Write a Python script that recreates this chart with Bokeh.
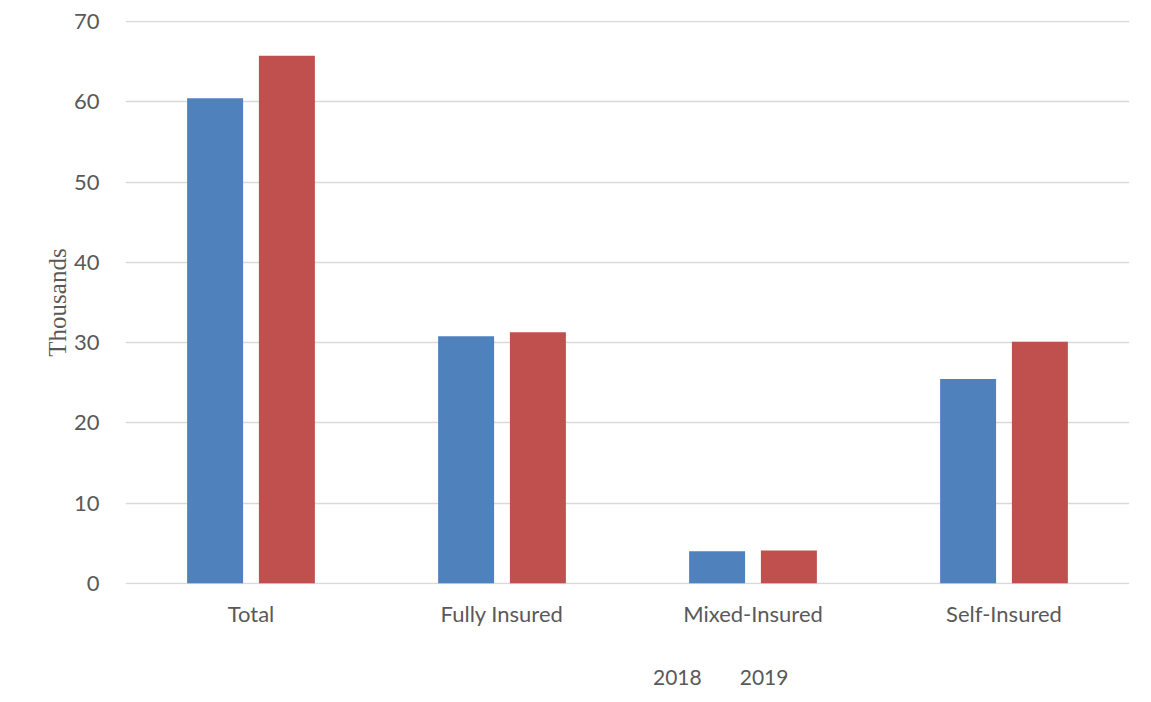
from bokeh.plotting import figure
from bokeh.layouts import column
from bokeh.models import ColumnDataSource, FactorRange, Range1d, Legend, LegendItem, SingleIntervalTicker
from bokeh.transform import dodge
from bokeh.embed import file_html
from bokeh.resources import INLINE

categories = ["Total", "Fully Insured", "Mixed-Insured", "Self-Insured"]
years = ["2018", "2019"]
values_2018 = [60.45, 30.8, 4.0, 25.45]
values_2019 = [65.75, 31.3, 4.1, 30.1]
colors = ["#4F81BD", "#C0504D"]

src = ColumnDataSource(dict(cat=categories, y2018=values_2018, y2019=values_2019))

TEXT = "#595959"
FONT = "Lato"

p = figure(frame_width=1004, frame_height=564, x_range=FactorRange(*categories, range_padding=0),
           y_range=Range1d(-0.15, 70.15), output_backend="svg", toolbar_location=None,
           min_border_left=125, min_border_right=14, min_border_top=20, min_border_bottom=0)
p.outline_line_color = None

p.vbar(x=dodge("cat", -0.143, range=p.x_range), top="y2018", width=0.223, source=src,
       color=colors[0], line_color=None)
p.vbar(x=dodge("cat", 0.143, range=p.x_range), top="y2019", width=0.223, source=src,
       color=colors[1], line_color=None)

p.yaxis.ticker = SingleIntervalTicker(interval=10)
p.ygrid.grid_line_color = "#d9d9d9"
p.ygrid.grid_line_width = 1.5
p.xgrid.grid_line_color = None

for ax in (p.xaxis[0], p.yaxis[0]):
    ax.axis_line_color = None
    ax.major_tick_line_color = None
    ax.minor_tick_line_color = None
    ax.major_label_text_font = FONT
    ax.major_label_text_font_size = "22px"
    ax.major_label_text_color = TEXT

p.xaxis.major_label_standoff = 9

p.yaxis.major_label_standoff = 20
p.yaxis.axis_label = "Thousands"
p.yaxis.axis_label_text_font = "Liberation Serif"
p.yaxis.axis_label_text_font_style = "normal"
p.yaxis.axis_label_text_font_size = "25px"
p.yaxis.axis_label_text_color = TEXT
p.yaxis.axis_label_standoff = 0

# separate strip below the chart holding the legend
lf = figure(width=1143, height=78, x_range=Range1d(0, 1), y_range=Range1d(0, 1),
            x_axis_type=None, y_axis_type=None, output_backend="svg", toolbar_location=None,
            min_border=0)
lf.outline_line_color = None
lr1 = lf.vbar(x=[], top=[], width=0.1, color=colors[0], line_color=None)
lr2 = lf.vbar(x=[], top=[], width=0.1, color=colors[1], line_color=None)

legend = Legend(items=[LegendItem(label=years[0], renderers=[lr1]),
                       LegendItem(label=years[1], renderers=[lr2])],
                orientation="horizontal", location=(508, 18))
legend.label_text_font = FONT
legend.label_text_font_size = "21px"
legend.label_text_color = TEXT
legend.glyph_width = 14
legend.glyph_height = 14
legend.label_standoff = 6
legend.spacing = 18
legend.border_line_color = None
legend.background_fill_alpha = 0
legend.padding = 0
legend.margin = 0
lf.add_layout(legend, "center")

layout = column(p, lf)
open("out.html", "w").write(file_html(layout, INLINE))
